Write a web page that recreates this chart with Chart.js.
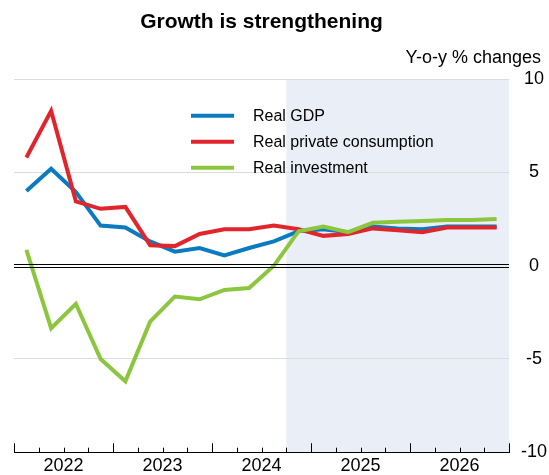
<!DOCTYPE html>
<html lang="en">
<head>
  <meta charset="UTF-8">
  <title>Growth is strengthening</title>
  <script src="https://cdn.jsdelivr.net/npm/chart.js"></script>
  <style>
    body { margin: 0; background: #fff; }
    canvas { display: block; }
  </style>
</head>
<body>
  <canvas id="myChart" width="549" height="475"></canvas>

  <script>
    // quarterly data, 2022Q1 - 2026Q4
    var quarters = ['2022Q1','2022Q2','2022Q3','2022Q4','2023Q1','2023Q2','2023Q3','2023Q4',
                    '2024Q1','2024Q2','2024Q3','2024Q4','2025Q1','2025Q2','2025Q3','2025Q4',
                    '2026Q1','2026Q2','2026Q3','2026Q4'];
    var years = ['2022', '2023', '2024', '2025', '2026'];

    var realGDP = [4.0, 5.2, 3.95, 2.15, 2.05, 1.3, 0.75, 0.95, 0.55, 0.95,
                   1.3, 1.85, 1.95, 1.8, 2.1, 2.0, 1.95, 2.1, 2.1, 2.1];
    var realConsumption = [5.8, 8.3, 3.45, 3.05, 3.15, 1.1, 1.05, 1.7, 1.95, 1.95,
                           2.15, 1.95, 1.6, 1.7, 2.0, 1.9, 1.8, 2.05, 2.05, 2.05];
    var realInvestment = [0.85, -3.35, -2.05, -5.0, -6.2, -3.0, -1.65, -1.8, -1.3, -1.2,
                          0.0, 1.85, 2.1, 1.8, 2.3, 2.35, 2.4, 2.45, 2.45, 2.5];

    var projectionStart = '2024Q4';
    var yTicks = [-10, -5, 0, 5, 10];

    var FONT = "'Liberation Sans', Arial, sans-serif";

    function toPoints(values) {
      return values.map(function(v, i) { return { x: i + 0.5, y: v }; });
    }

    // shaded projection area
    var shadePlugin = {
      id: 'shade',
      beforeDraw: function(chart) {
        var ctx = chart.ctx, x = chart.scales.x, a = chart.chartArea;
        var x0 = x.getPixelForValue(quarters.indexOf(projectionStart));
        var x1 = x.getPixelForValue(quarters.length);
        ctx.save();
        ctx.fillStyle = '#eaeef6';
        ctx.fillRect(x0, a.top, x1 - x0, a.bottom - a.top);
        ctx.restore();
      }
    };

    // zero line, ticks, legend and unit label
    var extrasPlugin = {
      id: 'extras',
      afterDatasetsDraw: function(chart) {
        var ctx = chart.ctx, x = chart.scales.x, y = chart.scales.y, a = chart.chartArea;
        ctx.save();
        ctx.strokeStyle = '#000';
        ctx.lineWidth = 1;
        var y0 = Math.round(y.getPixelForValue(0));
        [y0 - 1.5, y0 + 1.5].forEach(function(py) {
          ctx.beginPath();
          ctx.moveTo(a.left, py);
          ctx.lineTo(a.right, py);
          ctx.stroke();
        });
        // quarter ticks pointing up from the axis
        for (var i = 0; i <= quarters.length; i++) {
          var px = Math.round(x.getPixelForValue(i)) + 0.5;
          var len = (i % 4 === 0) ? 9 : 4.5;
          ctx.beginPath();
          ctx.moveTo(px, a.bottom);
          ctx.lineTo(px, a.bottom - len);
          ctx.stroke();
        }
        ctx.restore();
      },
      afterDraw: function(chart) {
        var ctx = chart.ctx, a = chart.chartArea;
        ctx.save();
        ctx.fillStyle = '#000';
        ctx.font = '18px ' + FONT;
        ctx.textAlign = 'right';
        ctx.textBaseline = 'middle';
        ctx.fillText('Y-o-y % changes', a.right + 32, 58);

        ctx.font = '16px ' + FONT;
        ctx.textAlign = 'left';
        chart.data.datasets.forEach(function(ds, i) {
          var ly = a.top + 36.5 + i * 26;
          ctx.strokeStyle = ds.borderColor;
          ctx.lineWidth = 4;
          ctx.beginPath();
          ctx.moveTo(a.left + 177, ly);
          ctx.lineTo(a.left + 220, ly);
          ctx.stroke();
          ctx.fillStyle = '#000';
          ctx.fillText(ds.label, a.left + 239, ly + 1);
        });
        ctx.restore();
      }
    };

    var ctx = document.getElementById('myChart').getContext('2d');
    var chart = new Chart(ctx, {
      type: 'line',
      data: {
        datasets: [{
          label: 'Real GDP',
          data: toPoints(realGDP),
          borderColor: '#0a7bc1',
          order: 3
        }, {
          label: 'Real private consumption',
          data: toPoints(realConsumption),
          borderColor: '#e1252d',
          order: 2
        }, {
          label: 'Real investment',
          data: toPoints(realInvestment),
          borderColor: '#8cc63f',
          order: 1
        }]
      },
      options: {
        responsive: false,
        animation: false,
        devicePixelRatio: 1,
        layout: { padding: { left: 14, right: 0, top: 0, bottom: 0 } },
        elements: {
          point: { radius: 0 },
          line: { borderWidth: 4, tension: 0, fill: false }
        },
        plugins: {
          legend: { display: false },
          tooltip: { enabled: false },
          title: {
            display: true,
            text: 'Growth is strengthening',
            fullSize: false,
            color: '#000',
            font: { family: FONT, size: 21, weight: 'bold' },
            padding: { top: 10, bottom: 44 }
          }
        },
        scales: {
          x: {
            type: 'linear',
            min: 0,
            max: quarters.length,
            afterFit: function(s) { s.height = 22; },
            grid: { display: false, drawTicks: false },
            border: { display: true, color: '#000', width: 1 },
            ticks: {
              stepSize: 1,
              autoSkip: false,
              maxRotation: 0,
              padding: 3,
              color: '#000',
              font: { family: FONT, size: 18 },
              callback: function(v) {
                return (v % 4 === 2) ? years[(v - 2) / 4] : '';
              }
            }
          },
          y: {
            position: 'right',
            min: yTicks[0],
            max: yTicks[yTicks.length - 1],
            afterFit: function(s) { s.width = 40; },
            afterBuildTicks: function(s) {
              s.ticks = yTicks.map(function(v) { return { value: v }; });
            },
            border: { display: false },
            grid: {
              drawTicks: false,
              color: function(c) {
                var v = c.tick && c.tick.value;
                return (v === 0 || v === yTicks[0]) ? 'rgba(0,0,0,0)' : '#dcdcdc';
              },
              lineWidth: 1
            },
            ticks: {
              crossAlign: 'center',
              padding: 12,
              color: '#000',
              font: { family: FONT, size: 18 }
            }
          }
        }
      },
      plugins: [shadePlugin, extrasPlugin]
    });
  </script>
</body>
</html>
